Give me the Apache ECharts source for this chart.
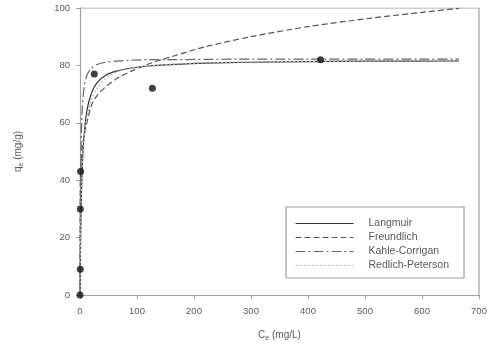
<!DOCTYPE html>
<html>
<head>
<meta charset="utf-8">
<script src="https://cdn.jsdelivr.net/npm/echarts@6/dist/echarts.min.js"></script>
<style>
  html, body { margin: 0; padding: 0; background: #fff; }
  #chart { width: 490px; height: 347px; }
</style>
</head>
<body>
<div id="chart"></div>
<script>
// 实验点 (Ce, qe)
var expPoints = [[0, 0], [0.5, 9], [0.5, 30], [1, 43], [25, 77], [127, 72], [422, 82]]

// 拟合曲线，横坐标共用
var ceGrid = [0, 0.5, 1, 2, 4, 7, 12, 20, 30, 45, 65, 90, 120, 160, 220, 300, 400, 500, 600, 665]
var langmuir = [0, 10.7, 18.9, 30.8, 44.7, 55.1, 64.1, 70.3, 74, 76.6, 78.1, 79.1, 79.8, 80.3, 80.8, 81.1, 81.3, 81.5, 81.5, 81.6]
var freundlich = [0, 39.3, 42.9, 46.9, 51.3, 55.2, 60, 66, 69.5, 72.5, 75.5, 78, 80.5, 83, 86.5, 90, 93.5, 96.2, 98.5, 99.9]
var kobleCorrigan = [0, 22, 36, 52, 65, 72, 76.5, 79, 80.3, 81.1, 81.5, 81.8, 82, 82, 82.1, 82.2, 82.2, 82.2, 82.2, 82.2]
var redlichPeterson = [0, 12, 20, 32, 45, 54, 62, 68, 72, 75.5, 77.8, 79, 79.8, 80.4, 80.9, 81.2, 81.4, 81.5, 81.6, 81.7]

var xTicks = { min: 0, max: 700, interval: 100 }
var yTicks = { min: 0, max: 100, interval: 20 }

function pair(ys) {
  return ceGrid.map(function (c, i) { return [c, ys[i]] })
}

var axisGray = '#a0a0a0'
var textGray = '#5a5a5a'

function lineSeries(name, ys, color, type, width) {
  return {
    name: name,
    type: 'line',
    data: pair(ys),
    smooth: 0.3,
    symbol: 'none',
    lineStyle: { color: color, type: type, width: width || 1.2 },
    itemStyle: { color: color },
    z: 2
  }
}

var subRich = { sub: { fontSize: 7, verticalAlign: 'bottom', padding: [6, 0, 0, 0], color: textGray } }

var chart = echarts.init(document.getElementById('chart'))
chart.setOption({
  animation: false,
  textStyle: { fontFamily: 'Liberation Sans, Arial, sans-serif' },
  grid: { left: 80, right: 11, top: 8, bottom: 52 },
  legend: {
    data: ['Langmuir', 'Freundlich', 'Kahle-Corrigan', 'Redlich-Peterson'],
    orient: 'vertical',
    left: 286,
    top: 207,
    itemWidth: 58,
    itemHeight: 10,
    itemGap: 3,
    padding: [11, 15, 7, 9],
    borderColor: axisGray,
    borderWidth: 1.2,
    itemStyle: { opacity: 0 },
    lineStyle: { width: 1 },
    textStyle: { color: textGray, fontSize: 10.5, lineHeight: 10, padding: [0, 0, 0, 10] }
  },
  xAxis: {
    type: 'value',
    min: xTicks.min,
    max: xTicks.max,
    interval: xTicks.interval,
    name: 'C{sub|e} (mg/L)',
    nameLocation: 'middle',
    nameGap: 34,
    nameTextStyle: { color: textGray, fontSize: 10, rich: subRich },
    axisLine: { lineStyle: { color: axisGray, width: 1.2 } },
    axisTick: { length: 4, lineStyle: { color: axisGray } },
    axisLabel: { color: textGray, fontSize: 9.5, margin: 11 },
    splitLine: { show: false }
  },
  yAxis: {
    type: 'value',
    min: yTicks.min,
    max: yTicks.max,
    interval: yTicks.interval,
    name: 'q{sub|e} (mg/g)',
    nameLocation: 'middle',
    nameGap: 55,
    nameRotate: 90,
    nameTextStyle: { color: textGray, fontSize: 10, rich: subRich },
    axisLine: { lineStyle: { color: axisGray, width: 1.2 } },
    axisTick: { length: 4, lineStyle: { color: axisGray } },
    axisLabel: { color: textGray, fontSize: 9.5, margin: 10 },
    splitLine: { show: false }
  },
  series: [
    lineSeries('Langmuir', langmuir, '#333', 'solid', 1.2),
    lineSeries('Freundlich', freundlich, '#555', [6, 3], 1.2),
    lineSeries('Kahle-Corrigan', kobleCorrigan, '#666', [10, 3, 2, 3], 1.2),
    lineSeries('Redlich-Peterson', redlichPeterson, '#b5b5b5', [2, 2], 1.2),
    {
      name: 'exp',
      type: 'scatter',
      data: expPoints,
      symbolSize: 7,
      itemStyle: { color: '#111' },
      z: 5
    },
    {
      // 上边和右边的框线
      type: 'line',
      data: [[0, 100], [700, 100], [700, 0]],
      symbol: 'none',
      lineStyle: { color: axisGray, width: 1.2 },
      silent: true,
      z: 1
    }
  ]
})
</script>
</body>
</html>
